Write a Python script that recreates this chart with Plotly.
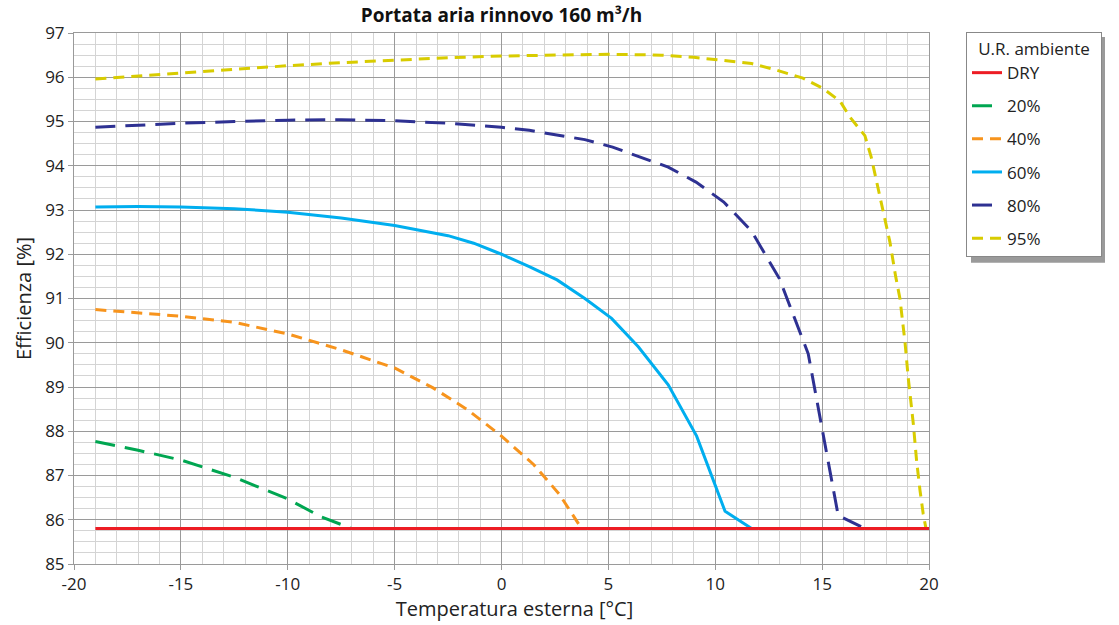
import plotly.graph_objects as go

# ---- data ----
dry_x = [-19, 20]
dry_y = [85.8, 85.8]

rh20_x = [-19, -17, -15, -12.5, -10, -8.5, -7]
rh20_y = [87.77, 87.57, 87.35, 86.96, 86.47, 86.08, 85.8]

rh40_x = [-19, -17, -15, -12.5, -10, -7.5, -5, -3.2, -1.6, 0, 1.5, 2.7, 3.75]
rh40_y = [90.75, 90.68, 90.6, 90.46, 90.2, 89.84, 89.43, 88.98, 88.49, 87.89, 87.25, 86.58, 85.8]

rh60_x = [-19, -17, -15, -12.5, -10, -7.5, -5, -2.5, -1.3, 0, 1.3, 2.6, 3.9, 5.15, 6.4, 7.8, 9.13, 10.46, 11.7]
rh60_y = [93.07, 93.08, 93.07, 93.03, 92.95, 92.82, 92.65, 92.42, 92.25, 92.0, 91.72, 91.42, 91.0, 90.55, 89.91, 89.05, 87.89, 86.19, 85.8]

rh80_x = [-19, -17, -15, -12.5, -10, -7.5, -5, -2.5, 0, 1.3, 2.6, 3.9, 5.2, 6.5, 7.8, 9.1, 10.4, 11.7, 13.0, 14.35, 15.75, 17.0]
rh80_y = [94.87, 94.92, 94.96, 95.0, 95.03, 95.04, 95.02, 94.96, 94.87, 94.8, 94.7, 94.59, 94.42, 94.2, 93.97, 93.63, 93.18, 92.52, 91.45, 89.75, 86.1, 85.8]

rh95_x = [-19, -17, -15, -12.5, -10, -7.5, -5, -2.5, 0, 2.5, 5, 7.5, 9, 10.4, 11.7, 12.8, 14.1, 15.0, 15.84, 16.3, 17.0, 17.3, 17.6, 17.85, 18.17, 18.44, 18.64, 18.88, 19.03, 19.27, 19.42, 19.58, 19.73, 19.86]
rh95_y = [95.96, 96.03, 96.1, 96.18, 96.26, 96.33, 96.39, 96.44, 96.48, 96.5, 96.52, 96.5, 96.45, 96.38, 96.31, 96.17, 95.98, 95.76, 95.46, 95.1, 94.68, 94.19, 93.55, 93.0, 92.28, 91.5, 91.0, 90.0, 89.2, 88.15, 87.33, 86.66, 86.13, 85.8]

series_names = ["DRY", "20%", "40%", "60%", "80%", "95%"]
x_ticks = [-20, -15, -10, -5, 0, 5, 10, 15, 20]
y_ticks = list(range(85, 98))

FONT = "Open Sans"

fig = go.Figure()

styles = [
    (rh20_x, rh20_y, series_names[1], "#00A651", "20px,10px", 2),
    (rh40_x, rh40_y, series_names[2], "#F7941D", "11px,7px", 3),
    (rh60_x, rh60_y, series_names[3], "#00AEEF", "solid", 4),
    (rh80_x, rh80_y, series_names[4], "#2E3192", "20px,10px", 5),
    (rh95_x, rh95_y, series_names[5], "#D8CC00", "11px,7px", 6),
]
for xs, ys, name, col, dash, rank in styles:
    fig.add_trace(go.Scatter(
        x=xs, y=ys, name=name, mode="lines", legendgroup=name, legendrank=rank,
        line=dict(color=col, width=3, dash=dash),
    ))

fig.add_trace(go.Scatter(
    x=dry_x, y=dry_y, name=series_names[0], mode="lines", legendgroup=series_names[0], legendrank=1,
    line=dict(color="#ED1C24", width=3),
))

# legend shadow
fig.add_shape(type="rect", xref="paper", yref="paper",
              x0=(971 - 74) / 855, x1=(1105 - 74) / 855,
              y0=(567 - 264) / 534, y1=(567 - 37) / 534,
              fillcolor="#9a9a9a", line=dict(width=0), layer="below")

fig.update_layout(
    width=1119, height=625,
    margin=dict(l=74, r=190, t=33, b=58),
    paper_bgcolor="white", plot_bgcolor="white",
    font=dict(family=FONT, size=17, color="#222"),
    title=dict(text="<b>Portata aria rinnovo 160 m³/h</b>", x=(501.5) / 1119, xanchor="center",
               y=1 - 15 / 625, yanchor="middle", font=dict(size=19, family=FONT, color="#111")),
    showlegend=True,
    legend=dict(
        x=(966 - 74) / 855, y=(567 - 32) / 534, xanchor="left", yanchor="top",
        bgcolor="white", bordercolor="#888", borderwidth=1,
        font=dict(size=17, family=FONT, color="#222"),
        title=dict(text="&nbsp;&nbsp;U.R. ambiente&nbsp;&nbsp;", side="top center",
                   font=dict(size=17, family=FONT)),
        tracegroupgap=8, traceorder="grouped",
    ),
    xaxis=dict(
        range=[-20, 20], tickmode="array", tickvals=x_ticks, ticktext=[str(v) for v in x_ticks],
        showgrid=True, gridcolor="#9a9a9a", gridwidth=1,
        minor=dict(dtick=1, tick0=0, showgrid=True, gridcolor="#d4d4d4", gridwidth=1),
        showline=True, linecolor="#9a9a9a", linewidth=1, mirror=True,
        ticks="outside", ticklen=5, tickcolor="#9a9a9a",
        zeroline=False, tickfont=dict(size=17, color="#222"),
        title=dict(text="&nbsp;&nbsp;&nbsp;&nbsp;&nbsp;Temperatura esterna [°C]", font=dict(size=20), standoff=4),
    ),
    yaxis=dict(
        range=[85, 97], tickmode="array", tickvals=y_ticks, ticktext=[str(v) for v in y_ticks],
        showgrid=True, gridcolor="#9a9a9a", gridwidth=1,
        minor=dict(dtick=0.25, tick0=85, showgrid=True, gridcolor="#d4d4d4", gridwidth=1),
        showline=True, linecolor="#9a9a9a", linewidth=1, mirror=True,
        ticks="outside", ticklen=5, tickcolor="#9a9a9a",
        zeroline=False, tickfont=dict(size=17, color="#222"),
        title=dict(text="Efficienza [%]", font=dict(size=20), standoff=8),
    ),
)

fig.write_html("out.html")
